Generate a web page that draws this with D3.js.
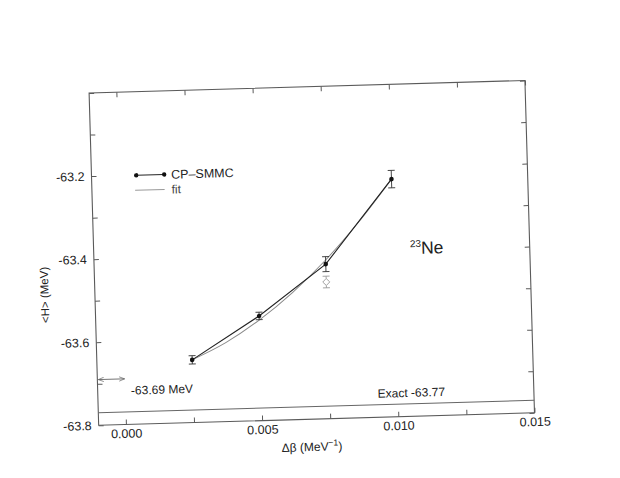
<!DOCTYPE html>
<html>
<head>
<meta charset="utf-8">
<script src="https://cdn.jsdelivr.net/npm/d3@7"></script>
<style>
  body { margin: 0; background: #fff; }
  svg { font-family: "Liberation Sans", Arial, sans-serif; }
</style>
</head>
<body>
<div class="visHolder"></div>
<script>
// data
var dbeta = [0.0025, 0.005, 0.0075, 0.01];
var energy = [-63.649, -63.548, -63.428, -63.228];
var energyErr = [0.010, 0.009, 0.018, 0.021];

var fitX = [0.0025, 0.00375, 0.005, 0.00625, 0.0075, 0.00875, 0.01];
var fitY = [-63.649, -63.610, -63.558, -63.494, -63.418, -63.329, -63.228];

var extraX = [0.0075];
var extraY = [-63.471];
var extraErr = [0.014];

var extrapolated = -63.69;
var exact = -63.77;

var xTicks = [0, 0.0025, 0.005, 0.0075, 0.01, 0.0125, 0.015];
var xLabels = [0, 0.005, 0.01, 0.015];
var yTicks = [-63.8, -63.7, -63.6, -63.5, -63.4, -63.3, -63.2, -63.1, -63.0];
var yLabels = [-63.8, -63.6, -63.4, -63.2];

var W = 620, H = 478;
var plotL = 93.8, plotR = 529.8, plotT = 86.7, plotB = 419.1;

var svg = d3.select(".visHolder")
    .append("svg")
    .attr("width", W)
    .attr("height", H);

svg.append("rect").attr("width", W).attr("height", H).attr("fill", "#fff");

// the scan is tilted a little
var g = svg.append("g")
    .attr("transform", "rotate(-1.65, 311.8, 252.9)");

var x = d3.scaleLinear().domain([-0.001, 0.015]).range([plotL, plotR]);
var y = d3.scaleLinear().domain([-63.8, -63.0]).range([plotB, plotT]);

var frameColor = "#5a5a5a";

// x axis (bottom, labels)
g.append("g")
    .attr("transform", `translate(0,${plotB})`)
    .call(d3.axisBottom(x)
        .tickValues(xTicks)
        .tickSizeInner(-5)
        .tickSizeOuter(0)
        .tickPadding(4.5)
        .tickFormat((d) => xLabels.some((v) => Math.abs(v - d) < 1e-9) ? d3.format(".3f")(d) : ""))
    .call((a) => a.select(".domain").remove())
    .call((a) => a.selectAll("line").attr("stroke", frameColor))
    .call((a) => a.selectAll("text").style("font-size", "12.5px").attr("fill", "#222"));

// x axis (top, ticks only)
g.append("g")
    .attr("transform", `translate(0,${plotT})`)
    .call(d3.axisTop(x).tickValues(xTicks).tickSizeInner(-5).tickSizeOuter(0).tickFormat(""))
    .call((a) => a.select(".domain").remove())
    .call((a) => a.selectAll("line").attr("stroke", frameColor));

// y axis (left, labels)
g.append("g")
    .attr("transform", `translate(${plotL},0)`)
    .call(d3.axisLeft(y)
        .tickValues(yTicks)
        .tickSizeInner(-5)
        .tickSizeOuter(0)
        .tickPadding(7)
        .tickFormat((d) => yLabels.some((v) => Math.abs(v - d) < 1e-9) ? "-" + d3.format(".1f")(-d) : ""))
    .call((a) => a.select(".domain").remove())
    .call((a) => a.selectAll("line").attr("stroke", frameColor))
    .call((a) => a.selectAll("text").style("font-size", "12.5px").attr("fill", "#222"));

// y axis (right, ticks only)
g.append("g")
    .attr("transform", `translate(${plotR},0)`)
    .call(d3.axisRight(y).tickValues(yTicks).tickSizeInner(-5).tickSizeOuter(0).tickFormat(""))
    .call((a) => a.select(".domain").remove())
    .call((a) => a.selectAll("line").attr("stroke", frameColor));

// frame
g.append("rect")
    .attr("x", plotL).attr("y", plotT)
    .attr("width", plotR - plotL).attr("height", plotB - plotT)
    .attr("fill", "none")
    .attr("stroke", frameColor)
    .attr("stroke-width", 1.1);

// exact value line
g.append("line")
    .attr("x1", x(-0.001)).attr("x2", x(0.015))
    .attr("y1", y(exact)).attr("y2", y(exact))
    .attr("stroke", "#666").attr("stroke-width", 1);

g.append("text")
    .attr("x", x(0.01) - 20).attr("y", y(exact) - 7)
    .style("font-size", "12px").attr("fill", "#222")
    .text("Exact -63.77");

// extrapolated value arrow
var defs = svg.append("defs");
defs.append("marker")
    .attr("id", "arrowEnd")
    .attr("viewBox", "0 0 10 10").attr("refX", 10).attr("refY", 5)
    .attr("markerWidth", 6).attr("markerHeight", 6)
    .attr("orient", "auto-start-reverse")
    .append("path")
    .attr("d", "M0,1 L10,5 L0,9")
    .attr("fill", "none").attr("stroke", "#666").attr("stroke-width", 1.3);

g.append("line")
    .attr("x1", x(-0.001) + 1).attr("x2", x(0))
    .attr("y1", y(extrapolated)).attr("y2", y(extrapolated))
    .attr("stroke", "#666").attr("stroke-width", 0.9)
    .attr("marker-start", "url(#arrowEnd)")
    .attr("marker-end", "url(#arrowEnd)");

g.append("text")
    .attr("x", x(0) + 6).attr("y", y(extrapolated) + 16)
    .style("font-size", "12px").attr("fill", "#222")
    .text("-63.69 MeV");

// fit curve
var fitData = fitX.map((d, i) => [d, fitY[i]]);
g.append("path")
    .datum(fitData)
    .attr("fill", "none")
    .attr("stroke", "#8a8a8a")
    .attr("stroke-width", 1)
    .attr("d", d3.line().x((d) => x(d[0])).y((d) => y(d[1])).curve(d3.curveMonotoneX));

// extra gray point (diamond) with error bar
extraX.forEach((d, i) => {
    var cx = x(d), cy = y(extraY[i]);
    var e0 = y(extraY[i] - extraErr[i]), e1 = y(extraY[i] + extraErr[i]);
    g.append("line").attr("x1", cx).attr("x2", cx).attr("y1", e0).attr("y2", cy + 3.5)
        .attr("stroke", "#999").attr("stroke-width", 0.9);
    g.append("line").attr("x1", cx).attr("x2", cx).attr("y1", e1).attr("y2", cy - 3.5)
        .attr("stroke", "#999").attr("stroke-width", 0.9);
    [e0, e1].forEach((ey) => g.append("line")
        .attr("x1", cx - 3.5).attr("x2", cx + 3.5).attr("y1", ey).attr("y2", ey)
        .attr("stroke", "#999").attr("stroke-width", 0.9));
    g.append("path")
        .attr("d", `M${cx},${cy - 3.5} L${cx + 3.5},${cy} L${cx},${cy + 3.5} L${cx - 3.5},${cy} Z`)
        .attr("fill", "#fff").attr("stroke", "#999").attr("stroke-width", 0.9);
});

// CP-SMMC line
var data = dbeta.map((d, i) => ({ x: d, y: energy[i], e: energyErr[i] }));
g.append("path")
    .datum(data)
    .attr("fill", "none")
    .attr("stroke", "#222")
    .attr("stroke-width", 1.1)
    .attr("d", d3.line().x((d) => x(d.x)).y((d) => y(d.y)));

var bars = g.selectAll(".ebar")
    .data(data)
    .enter()
    .append("g")
    .attr("class", "ebar");

bars.append("line")
    .attr("x1", (d) => x(d.x)).attr("x2", (d) => x(d.x))
    .attr("y1", (d) => y(d.y - d.e)).attr("y2", (d) => y(d.y + d.e))
    .attr("stroke", "#333").attr("stroke-width", 0.9);

[-1, 1].forEach((s) => {
    bars.append("line")
        .attr("x1", (d) => x(d.x) - 3.5).attr("x2", (d) => x(d.x) + 3.5)
        .attr("y1", (d) => y(d.y + s * d.e)).attr("y2", (d) => y(d.y + s * d.e))
        .attr("stroke", "#333").attr("stroke-width", 0.9);
});

g.selectAll(".dot")
    .data(data)
    .enter()
    .append("circle")
    .attr("class", "dot")
    .attr("cx", (d) => x(d.x))
    .attr("cy", (d) => y(d.y))
    .attr("r", 2.3)
    .attr("fill", "#111");

// legend
var lg = g.append("g").attr("id", "legend");
lg.append("line").attr("x1", 138.5).attr("x2", 166.5).attr("y1", 170.3).attr("y2", 170.3)
    .attr("stroke", "#222").attr("stroke-width", 1.1);
[138.5, 166.5].forEach((cx) => lg.append("circle").attr("cx", cx).attr("cy", 170.3).attr("r", 2.2).attr("fill", "#111"));
lg.append("text").attr("x", 173.5).attr("y", 170.3).attr("dy", "0.35em")
    .style("font-size", "12.5px").attr("fill", "#222").text("CP\u2013SMMC");
lg.append("line").attr("x1", 137).attr("x2", 166.5).attr("y1", 185.3).attr("y2", 185.3)
    .attr("stroke", "#999").attr("stroke-width", 1);
lg.append("text").attr("x", 173.5).attr("y", 185.3).attr("dy", "0.35em")
    .style("font-size", "12px").attr("fill", "#444").text("fit");

// nucleus label
var ne = g.append("text").attr("x", 410).attr("y", 257).attr("fill", "#222");
ne.append("tspan").style("font-size", "10px").attr("dy", "-7").text("23");
ne.append("tspan").style("font-size", "17.5px").attr("dy", "7").text("Ne");

// axis titles
g.append("text")
    .attr("transform", "translate(47.5, 287.3) rotate(-90)")
    .attr("text-anchor", "middle")
    .style("font-size", "11.5px").attr("fill", "#222")
    .text("<H> (MeV)");

var xt = g.append("text")
    .attr("x", 306.4).attr("y", 451)
    .attr("text-anchor", "middle")
    .style("font-size", "12px").attr("fill", "#222");
xt.append("tspan").text("\u0394\u03b2 (MeV");
xt.append("tspan").style("font-size", "8.5px").attr("dy", "-5").text("\u22121");
xt.append("tspan").attr("dy", "5").text(")");
</script>
</body>
</html>
